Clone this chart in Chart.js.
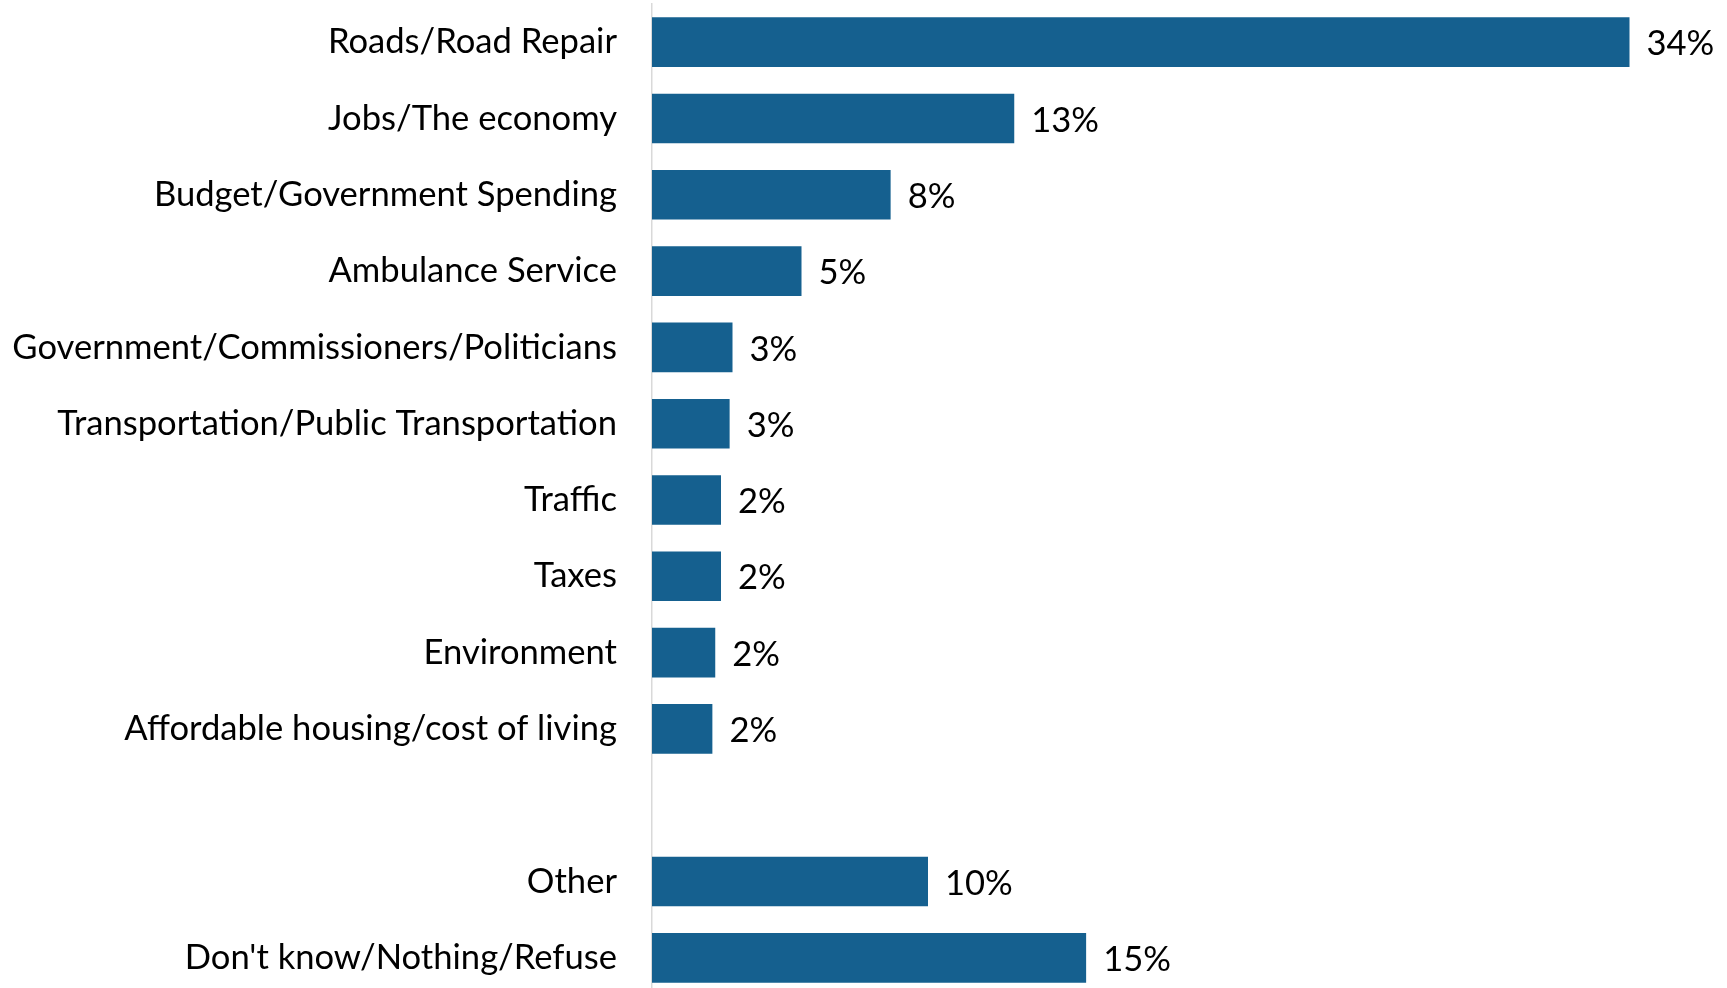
<!DOCTYPE html>
<html lang="en">
<head>
  <meta charset="UTF-8">
  <title>Most important issue</title>
  <script src="https://cdn.jsdelivr.net/npm/chart.js"></script>
  <style>
    html, body { margin: 0; padding: 0; overflow: hidden; background: #fff; }
    #wrap { position: relative; width: 1727px; height: 996px; }
  </style>
</head>
<body>
  <div id="wrap">
    <canvas id="myChart"></canvas>
  </div>

  <script>
    // categories (the empty one is the gap before Other)
    const categories = [
      'Roads/Road Repair',
      'Jobs/The economy',
      'Budget/Government Spending',
      'Ambulance Service',
      'Government/Commissioners/Politicians',
      'Transportation/Public Transportation',
      'Traffic',
      'Taxes',
      'Environment',
      'Affordable housing/cost of living',
      '',
      'Other',
      "Don't know/Nothing/Refuse"
    ];
    // percent of respondents
    const percents = [34.0, 12.6, 8.3, 5.2, 2.8, 2.7, 2.4, 2.4, 2.2, 2.1, null, 9.6, 15.1];

    const barColor = '#15608F';
    const fontFamily = 'Lato, "Open Sans", sans-serif';
    const fontSize = 34.6;

    // value labels at the end of each bar
    const valueLabels = {
      id: 'valueLabels',
      afterDatasetsDraw(chart) {
        const ctx = chart.ctx;
        const meta = chart.getDatasetMeta(0);
        ctx.save();
        ctx.font = fontSize + 'px ' + fontFamily;
        ctx.fillStyle = '#000';
        ctx.textAlign = 'left';
        ctx.textBaseline = 'middle';
        meta.data.forEach((bar, i) => {
          const v = percents[i];
          if (v == null) return;
          ctx.fillText(Math.round(v) + '%', bar.x + 17, bar.y + 2);
        });
        ctx.restore();
      }
    };

    var ctx = document.getElementById('myChart').getContext('2d');
    var myChart = new Chart(ctx, {
      type: 'bar',
      data: {
        labels: categories,
        datasets: [{
          data: percents,
          backgroundColor: barColor,
          borderWidth: 0,
          categoryPercentage: 1,
          barPercentage: 0.65
        }]
      },
      options: {
        indexAxis: 'y',
        responsive: true,
        maintainAspectRatio: false,
        animation: false,
        layout: { padding: { top: 4, right: 40, bottom: 0, left: 0 } },
        plugins: {
          legend: { display: false },
          tooltip: { enabled: false }
        },
        scales: {
          x: {
            display: false,
            min: 0,
            max: 36
          },
          y: {
            grid: { display: false, drawTicks: false },
            border: { display: true, color: '#d9d9d9', width: 1.5 },
            ticks: {
              autoSkip: false,
              padding: 35,
              color: '#000',
              font: { family: fontFamily, size: fontSize }
            },
            afterFit: s => {
              s.width = 652;
              s.paddingTop = 0;
              s.paddingBottom = 0;
            }
          }
        }
      },
      plugins: [valueLabels]
    });
  </script>
</body>
</html>
